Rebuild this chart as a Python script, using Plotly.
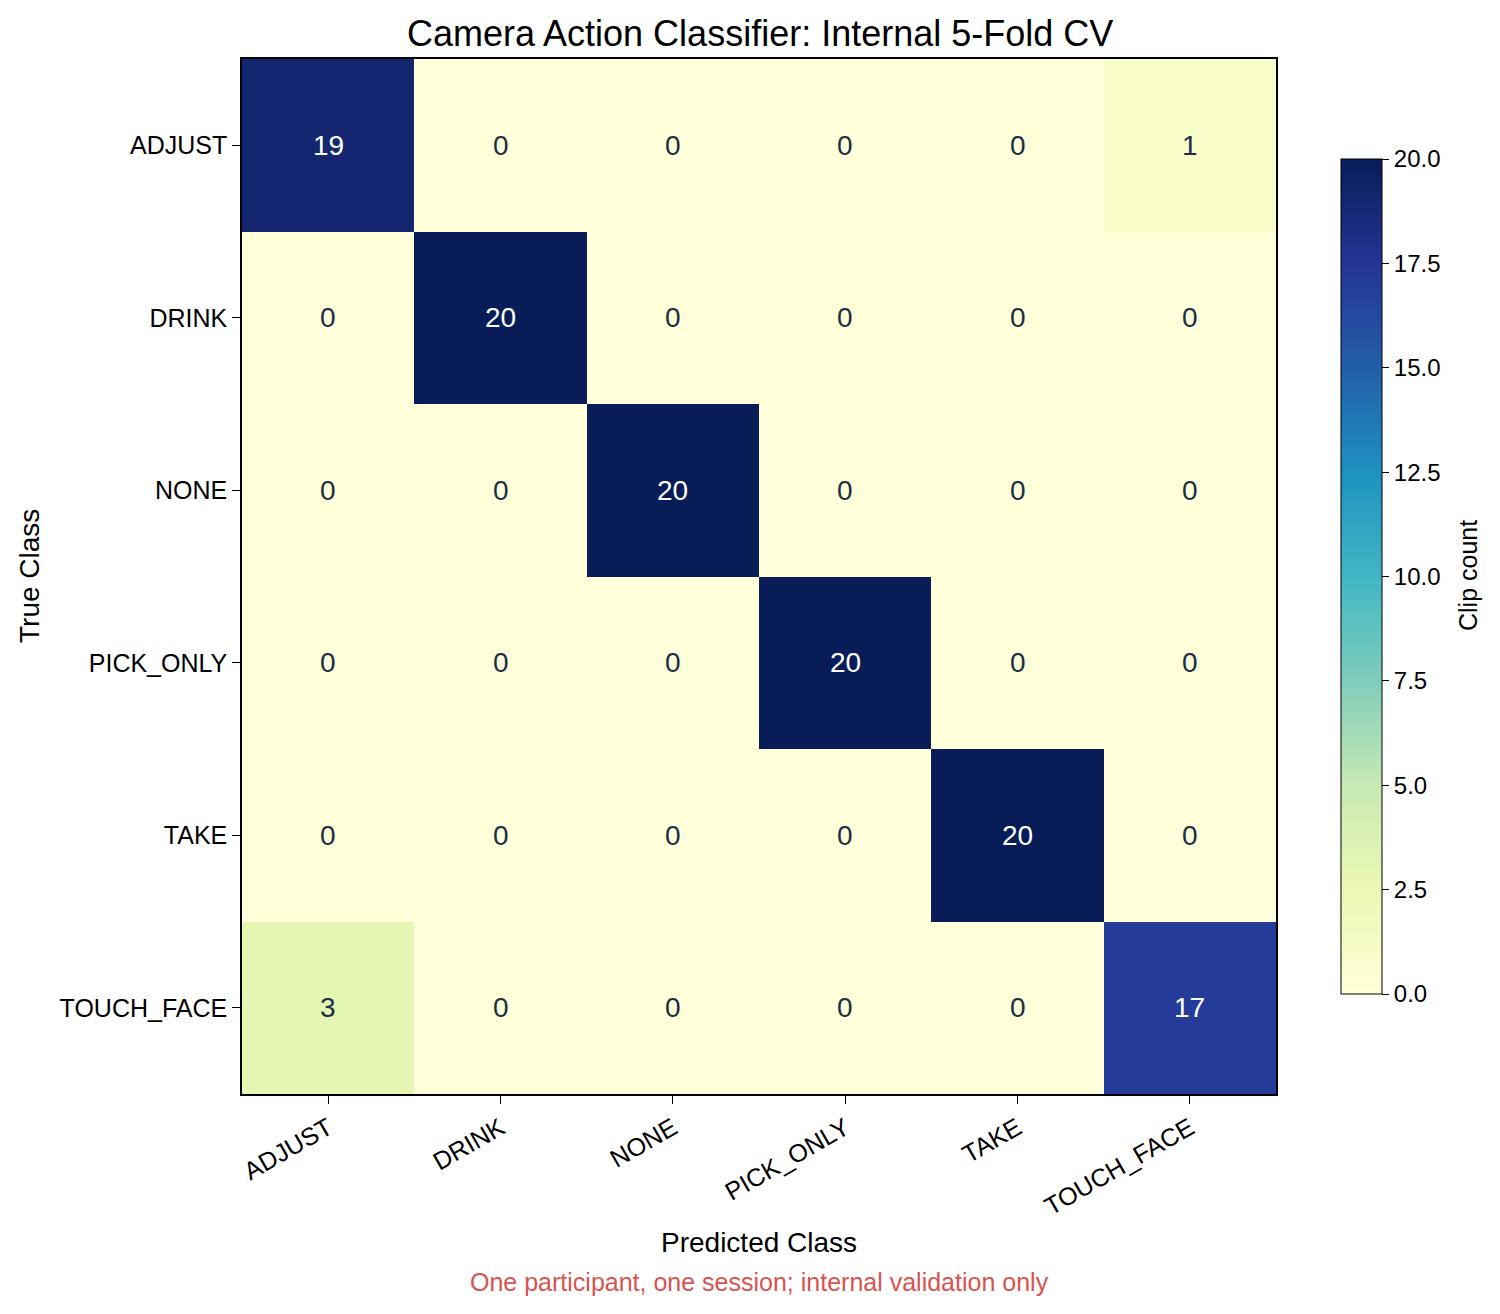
import plotly.graph_objects as go
import plotly.express as px

classes = ["ADJUST", "DRINK", "NONE", "PICK_ONLY", "TAKE", "TOUCH_FACE"]
counts = [
    [19, 0, 0, 0, 0, 1],
    [0, 20, 0, 0, 0, 0],
    [0, 0, 20, 0, 0, 0],
    [0, 0, 0, 20, 0, 0],
    [0, 0, 0, 0, 20, 0],
    [3, 0, 0, 0, 0, 17],
]
cbar_ticks = [0, 2.5, 5, 7.5, 10, 12.5, 15, 17.5, 20]

FONT = "Liberation Sans, Arial, sans-serif"
OFF = 8  # page body margin offset
W, H = 1500 - OFF, 1314 - OFF
L, R, T, B = 242 - OFF, 1276 - OFF, 59 - OFF, 1094 - OFF
pw, ph = R - L, B - T

def px_x(x):
    return (x - OFF - L) / pw

def px_y(y):
    return (B - (y - OFF)) / ph

scale = px.colors.sequential.YlGnBu
n = len(scale)
colorscale = [[i / (n - 1), c] for i, c in enumerate(scale)]

fig = go.Figure()
fig.add_trace(go.Heatmap(
    z=counts, x=classes, y=classes,
    colorscale=colorscale, zmin=0, zmax=20,
    hoverinfo="skip",
    colorbar=dict(
        x=px_x(1341), xanchor="left", xpad=0,
        y=px_y(576.5), yanchor="middle", ypad=0,
        len=835, lenmode="pixels",
        thickness=41, thicknessmode="pixels",
        outlinewidth=1, outlinecolor="black",
        tickvals=cbar_ticks, tickformat=".1f",
        ticks="outside", ticklen=7, tickcolor="black",
        tickfont=dict(family=FONT, size=24, color="black"),
    ),
))

annotations = []
for i, row in enumerate(counts):
    for j, v in enumerate(row):
        annotations.append(dict(
            x=classes[j], y=classes[i], xref="x", yref="y",
            text=str(v), showarrow=False,
            font=dict(family=FONT, size=28, color="white" if v > 10 else "#1b2f45"),
        ))

annotations += [
    dict(x=px_x(760), y=px_y(33), xref="paper", yref="paper", text="Camera Action Classifier: Internal 5-Fold CV",
         showarrow=False, xanchor="center", yanchor="middle", font=dict(family=FONT, size=36, color="black")),
    dict(x=px_x(759), y=px_y(1242), xref="paper", yref="paper", text="Predicted Class",
         showarrow=False, xanchor="center", yanchor="middle", font=dict(family=FONT, size=28, color="black")),
    dict(x=px_x(29), y=px_y(576), xref="paper", yref="paper", text="True Class", textangle=-90,
         showarrow=False, xanchor="center", yanchor="middle", font=dict(family=FONT, size=28, color="black")),
    dict(x=px_x(1468), y=px_y(576), xref="paper", yref="paper", text="Clip count", textangle=-90,
         showarrow=False, xanchor="center", yanchor="middle", font=dict(family=FONT, size=25, color="black")),
    dict(x=px_x(759), y=px_y(1282), xref="paper", yref="paper",
         text="One participant, one session; internal validation only",
         showarrow=False, xanchor="center", yanchor="middle", font=dict(family=FONT, size=25, color="#d9534f")),
]

fig.update_layout(
    width=W, height=H,
    margin=dict(l=L, r=W - R, t=T, b=H - B, pad=0),
    paper_bgcolor="white", plot_bgcolor="white",
    font=dict(family=FONT, color="black"),
    annotations=annotations,
    xaxis=dict(
        tickangle=-30, ticks="outside", ticklen=8, tickcolor="black",
        tickfont=dict(family=FONT, size=25, color="black"),
        showline=True, linecolor="black", linewidth=1.5, mirror=True,
        showgrid=False, zeroline=False,
    ),
    yaxis=dict(
        autorange="reversed", ticks="outside", ticklen=8, tickcolor="black",
        tickfont=dict(family=FONT, size=25, color="black"),
        showline=True, linecolor="black", linewidth=1.5, mirror=True,
        showgrid=False, zeroline=False,
    ),
)

fig.write_html("out.html")
